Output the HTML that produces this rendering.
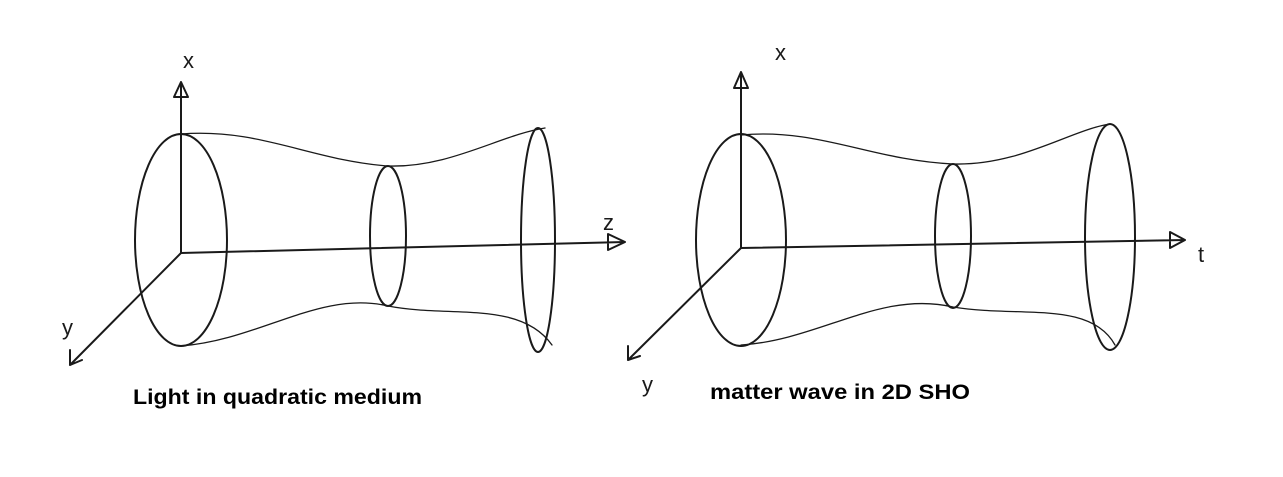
<!DOCTYPE html>
<html><head><meta charset="utf-8"><style>
html,body{margin:0;padding:0;background:#fff;width:1283px;height:477px;overflow:hidden}
svg{display:block}
.s{fill:none;stroke:#1a1a1a;stroke-width:2;stroke-linecap:round;stroke-linejoin:round}
.t{stroke-width:1.3}
.lbl{font-family:"Liberation Sans",sans-serif;font-weight:bold;font-size:21px;fill:#000}
.hw{font-family:"Liberation Sans",sans-serif;font-size:22px;fill:#1a1a1a}
</style></head><body>
<svg width="1283" height="477" viewBox="0 0 1283 477">
<g>
  <path class="s" d="M181 253 L181 82 M174 97 L181 82 L188 97 M174 97 L188 97"/>
  <path class="s" d="M181 253 L625 242 M608 234 L625 242 L608 250 Z"/>
  <path class="s" d="M181 253 L70 365 M70 350 L70 365 L82 360"/>
  <ellipse class="s" cx="181" cy="240" rx="46" ry="106"/>
  <ellipse class="s" cx="388" cy="236" rx="18" ry="70"/>
  <ellipse class="s" cx="538" cy="240" rx="17" ry="112"/>
  <path class="s t" d="M181 134 C260 128 310 160 388 166 C450 168 500 135 545 128"/>
  <path class="s t" d="M181 346 C260 340 320 290 388 306 C450 318 520 300 552 345"/>
  <text class="hw" x="183" y="68">x</text>
  <text class="hw" x="603" y="230">z</text>
  <text class="hw" x="62" y="335">y</text>
  <text class="lbl" x="133" y="404" textLength="289" lengthAdjust="spacingAndGlyphs">Light in quadratic medium</text>
</g>
<g>
  <path class="s" d="M741 248 L741 72 M734 88 L741 72 L748 88 M734 88 L748 88"/>
  <path class="s" d="M741 248 L1185 240 M1170 232 L1185 240 L1170 248 Z"/>
  <path class="s" d="M741 248 L628 360 M628 346 L628 360 L640 356"/>
  <ellipse class="s" cx="741" cy="240" rx="45" ry="106"/>
  <ellipse class="s" cx="953" cy="236" rx="18" ry="72"/>
  <ellipse class="s" cx="1110" cy="237" rx="25" ry="113"/>
  <path class="s t" d="M741 135 C820 128 870 160 953 164 C1020 166 1070 130 1110 124"/>
  <path class="s t" d="M741 345 C820 340 880 290 953 307 C1020 318 1090 300 1115 345"/>
  <text class="hw" x="775" y="60">x</text>
  <text class="hw" x="1198" y="262">t</text>
  <text class="hw" x="642" y="392">y</text>
  <text class="lbl" x="710" y="399" textLength="260" lengthAdjust="spacingAndGlyphs">matter wave in 2D SHO</text>
</g>
</svg>
</body></html>
